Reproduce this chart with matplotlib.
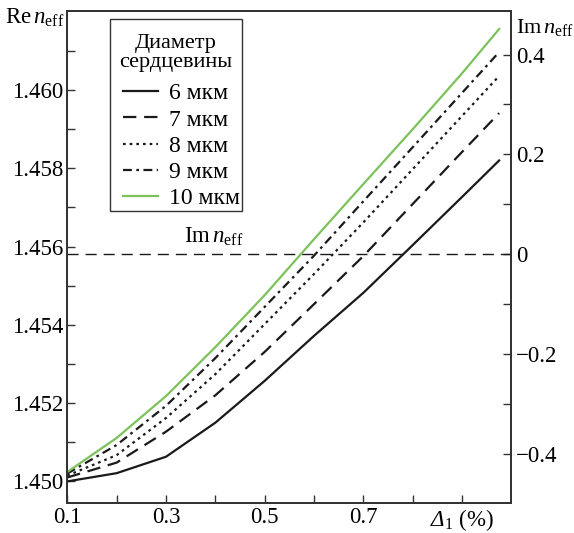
#!/usr/bin/env python3
"""Re/Im n_eff vs core-cladding index difference for several core diameters."""

import matplotlib

matplotlib.use("Agg")
import matplotlib.pyplot as plt
from matplotlib.patches import Rectangle
from matplotlib.ticker import FormatStrFormatter

plt.rcParams["font.family"] = ["Liberation Serif", "DejaVu Serif"]
plt.rcParams["mathtext.fontset"] = "custom"
plt.rcParams["mathtext.rm"] = "Liberation Serif"
plt.rcParams["mathtext.it"] = "Liberation Serif:italic"
# italic capital Greek needs a slot that mathtext doesn't force upright
plt.rcParams["mathtext.sf"] = "Liberation Serif:italic"

# data
delta = [0.1, 0.2, 0.3, 0.4, 0.5, 0.6, 0.7, 0.8, 0.9, 0.975]
re_6 = [1.45000, 1.45021, 1.45063, 1.45150, 1.45257, 1.45372, 1.45482, 1.45604, 1.45727, 1.45820]
re_7 = [1.45010, 1.45048, 1.45127, 1.45220, 1.45331, 1.45453, 1.45576, 1.45709, 1.45842, 1.45941]
re_8 = [1.45015, 1.45067, 1.45162, 1.45274, 1.45402, 1.45530, 1.45662, 1.45798, 1.45934, 1.46036]
re_9 = [1.45020, 1.45093, 1.45193, 1.45315, 1.45446, 1.45577, 1.45716, 1.45854, 1.45993, 1.46097]
re_10 = [1.45024, 1.45111, 1.45218, 1.45343, 1.45476, 1.45619, 1.45760, 1.45900, 1.46043, 1.46156]
labels = ["6 мкм", "7 мкм", "8 мкм", "9 мкм", "10 мкм"]
legend_title = "Диаметр\nсердцевины"
im_zero = 0.0

x_ticks = [0.1, 0.2, 0.3, 0.4, 0.5, 0.6, 0.7, 0.8, 0.9]
x_ticklabels = ["0.1", "", "0.3", "", "0.5", "", "0.7", "", r"$\mathsf{Δ}_1$ (%)"]
re_major = [1.450, 1.452, 1.454, 1.456, 1.458, 1.460]
re_minor = [1.451, 1.453, 1.455, 1.457, 1.459, 1.461]
im_ticks = [-0.4, -0.3, -0.2, -0.1, 0.0, 0.1, 0.2, 0.3, 0.4]
im_ticklabels = ["\u22120.4", "", "\u22120.2", "", "0", "", "0.2", "", "0.4"]

styles = [
    dict(color="#1a1a1a", linestyle="-"),
    dict(color="#1a1a1a", linestyle=(0, (6, 3.5))),
    dict(color="#1a1a1a", linestyle=(0, (1.2, 1.8))),
    dict(color="#1a1a1a", linestyle=(0, (4, 2, 1.2, 2))),
    dict(color="#7cc25a", linestyle="-"),
]

fig = plt.figure(figsize=(5.74, 5.33), dpi=100)
ax = fig.add_axes([0.1172, 0.0557, 0.7739, 0.9237])
ax2 = ax.twinx()

for series, label, st in zip([re_6, re_7, re_8, re_9, re_10], labels, styles):
    ax.plot(delta, series, label=label, linewidth=1.6, **st)

ax.set_xlim(0.1, 1.0)
ax.set_ylim(1.44944, 1.46202)
ax2.set_ylim(-0.4996, 0.4874)

ax2.axhline(im_zero, color="#1a1a1a", linewidth=1.0, linestyle=(0, (8, 5)))
ax2.text(0.337, 0.012, r"$\mathrm{Im}\,n_{\mathrm{eff}}$", fontsize=16.5,
         ha="left", va="bottom")

ax.set_xticks(x_ticks)
ax.set_xticklabels(x_ticklabels)
ax.set_yticks(re_major)
ax.set_yticks(re_minor, minor=True)
ax.yaxis.set_major_formatter(FormatStrFormatter("%.3f"))
ax2.set_yticks(im_ticks)
ax2.set_yticklabels(im_ticklabels)

for a in (ax, ax2):
    a.tick_params(which="both", direction="in", length=6, width=1.0,
                  labelsize=16.5, color="#333333", pad=3)
    for spine in a.spines.values():
        spine.set_linewidth(1.3)
        spine.set_color("#333333")
ax.tick_params(axis="x", pad=3)

fig.text(0.008, 0.966, r"$\mathrm{Re}\,n_{\mathrm{eff}}$", fontsize=16.5, ha="left", va="center")
fig.text(0.899, 0.948, r"$\mathrm{Im}\,n_{\mathrm{eff}}$", fontsize=16, ha="left", va="center")

# legend box and title drawn by hand: the original has a tight right margin
ax.add_patch(Rectangle((0.096, 0.594), 0.297, 0.390, transform=ax.transAxes,
                       facecolor="white", edgecolor="#333333", linewidth=1.0,
                       zorder=4))
ax.text(0.2447, 0.9147, legend_title, transform=ax.transAxes, fontsize=16,
        ha="center", va="center", multialignment="center", linespacing=0.95,
        zorder=6)
leg = ax.legend(loc="upper left", bbox_to_anchor=(0.125, 0.854),
                borderaxespad=0, borderpad=0, fontsize=17, frameon=False,
                handlelength=1.5, handletextpad=0.45, labelspacing=0.2)
leg.set_zorder(5)

fig.savefig("out.png", dpi=100)
